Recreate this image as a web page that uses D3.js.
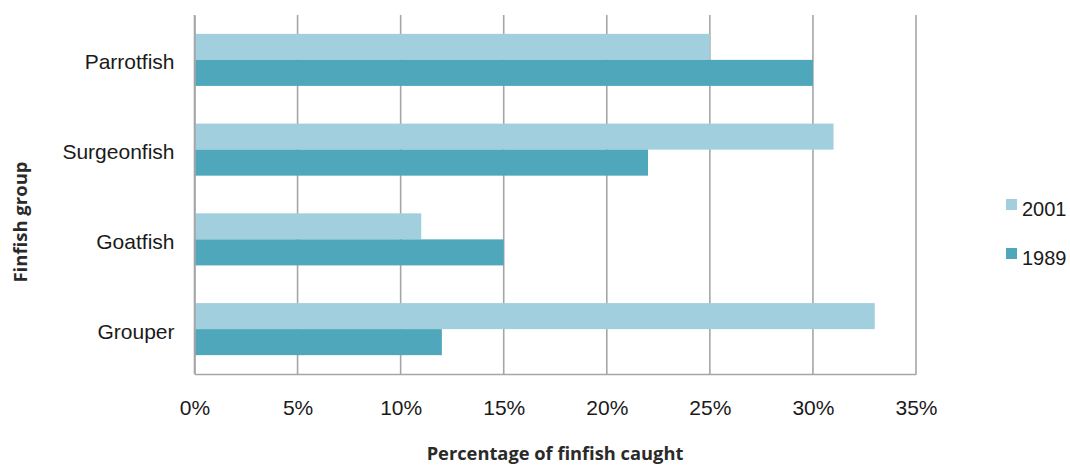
<!DOCTYPE html>
<html>
<head>
<meta charset="utf-8">
<script src="https://cdn.jsdelivr.net/npm/d3@7"></script>
<style>
  body { margin: 0; background: #fff; }
  #wrapper svg { display: block; }
</style>
</head>
<body>
<div id="wrapper"></div>
<script>
// data
const categories = ["Parrotfish", "Surgeonfish", "Goatfish", "Grouper"];
const seriesNames = ["2001", "1989"];
const values2001 = [25, 31, 11, 33];
const values1989 = [30, 22, 15, 12];
const xTicks = [0, 5, 10, 15, 20, 25, 30, 35];

const colors = { "2001": "#a2cfdd", "1989": "#4ea7bb" };

function buildPlot() {
    const dimension = {
        width: 1070,
        height: 465,
        margin: { top: 15, left: 194.5, bottom: 91, right: 154 }
    };
    dimension.boundedWidth = dimension.width - dimension.margin.left - dimension.margin.right;
    dimension.boundedHeight = dimension.height - dimension.margin.top - dimension.margin.bottom;

    const rows = categories.map((c, i) => ({ cat: c, "2001": values2001[i], "1989": values1989[i] }));

    const svg = d3.select("#wrapper").append("svg")
        .attr("width", dimension.width)
        .attr("height", dimension.height);

    const bounded = svg.append("g")
        .attr("transform", `translate(${dimension.margin.left},${dimension.margin.top})`);

    const xScaler = d3.scaleLinear()
        .domain([0, 35])
        .range([0, dimension.boundedWidth]);

    const yScaler = d3.scaleBand()
        .domain(categories)
        .range([0, dimension.boundedHeight])
        .paddingInner(0.42)
        .paddingOuter(0.21);

    const inner = d3.scaleBand()
        .domain(seriesNames)
        .range([0, yScaler.bandwidth()]);

    // gridlines
    bounded.append("g")
        .selectAll("line")
        .data(xTicks)
        .join("line")
        .attr("x1", d => xScaler(d))
        .attr("x2", d => xScaler(d))
        .attr("y1", 0)
        .attr("y2", dimension.boundedHeight)
        .attr("stroke", "#a6a6a6")
        .attr("stroke-width", 1.6);

    // bars
    const groups = bounded.append("g")
        .selectAll("g")
        .data(rows)
        .join("g")
        .attr("transform", d => `translate(0,${yScaler(d.cat)})`);

    groups.selectAll("rect")
        .data(d => seriesNames.map(s => ({ s: s, v: d[s] })))
        .join("rect")
        .attr("x", 0)
        .attr("y", d => inner(d.s))
        .attr("width", d => xScaler(d.v))
        .attr("height", inner.bandwidth())
        .attr("fill", d => colors[d.s]);

    // axes
    const xAxis = d3.axisBottom(xScaler)
        .tickValues(xTicks)
        .tickSize(0)
        .tickPadding(26)
        .tickFormat(d => d + "%");

    const xg = bounded.append("g")
        .attr("transform", `translate(0,${dimension.boundedHeight})`)
        .call(xAxis);
    xg.select(".domain").attr("stroke", "#a6a6a6").attr("stroke-width", 1.6);
    xg.selectAll("text")
        .attr("font-family", "Liberation Sans, Arial, sans-serif")
        .attr("font-size", 21)
        .attr("fill", "#1a1a1a");

    const yAxis = d3.axisLeft(yScaler).tickSize(0).tickPadding(20);
    const yg = bounded.append("g").call(yAxis);
    yg.select(".domain").attr("stroke", "#a6a6a6").attr("stroke-width", 1.6);
    yg.selectAll("text")
        .attr("font-family", "Liberation Sans, Arial, sans-serif")
        .attr("font-size", 21)
        .attr("dy", "0.45em")
        .attr("fill", "#1a1a1a");

    // axis titles
    svg.append("text")
        .attr("x", 555)
        .attr("y", 460)
        .attr("text-anchor", "middle")
        .attr("font-family", "Open Sans, sans-serif")
        .attr("font-weight", "bold")
        .attr("font-size", 18.3)
        .attr("fill", "#2a2a2a")
        .text("Percentage of finfish caught");

    svg.append("text")
        .attr("transform", "translate(27,222) rotate(-90)")
        .attr("text-anchor", "middle")
        .attr("font-family", "Open Sans, sans-serif")
        .attr("font-weight", "bold")
        .attr("font-size", 18.5)
        .attr("fill", "#2a2a2a")
        .text("Finfish group");

    // legend
    const legend = svg.append("g")
        .attr("transform", "translate(1006,199)")
        .selectAll("g")
        .data(seriesNames)
        .join("g")
        .attr("transform", (d, i) => `translate(0,${i * 49})`);

    legend.append("rect")
        .attr("width", 11)
        .attr("height", 11)
        .attr("fill", d => colors[d]);

    legend.append("text")
        .attr("x", 16)
        .attr("y", 17)
        .attr("font-family", "Liberation Sans, Arial, sans-serif")
        .attr("font-size", 20)
        .attr("fill", "#1a1a1a")
        .text(d => d);
}

buildPlot();
</script>
</body>
</html>
